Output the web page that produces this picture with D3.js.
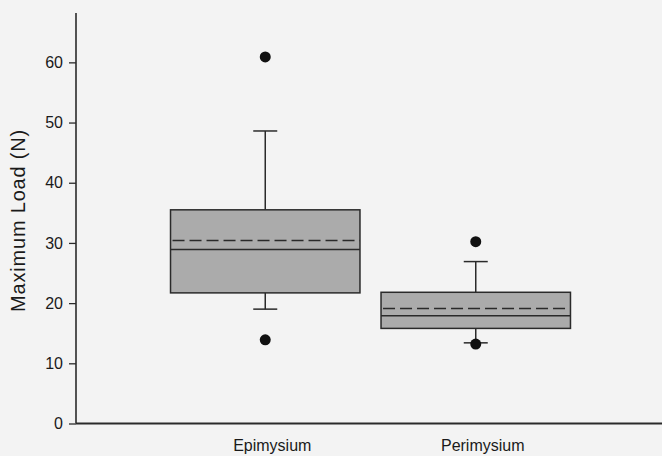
<!DOCTYPE html>
<html>
<head>
<meta charset="utf-8">
<script src="https://cdn.jsdelivr.net/npm/d3@7"></script>
<style>
  html, body { margin: 0; padding: 0; background: #f3f3f3; }
  svg { display: block; font-family: "Liberation Sans", Arial, Helvetica, sans-serif; }
</style>
</head>
<body>
<div id="chart"></div>
<script>
const categories = ['Epimysium', 'Perimysium'];
const q1 = [21.7, 15.8];
const q3 = [35.5, 21.8];
const medians = [28.9, 17.9];
const means = [30.4, 19.1];
const whiskerLow = [19.0, 13.4];
const whiskerHigh = [48.6, 26.9];
const outliers = [[60.9, 13.9], [30.2, 13.2]];
const yTicks = [0, 10, 20, 30, 40, 50, 60];

const width = 662;
const height = 456;

const svg = d3.select('#chart')
  .append('svg')
    .attr('width', width)
    .attr('height', height);

svg.append('rect')
  .attr('width', width)
  .attr('height', height)
  .attr('fill', '#f3f3f3');

const y = d3.scaleLinear()
  .domain([0, 68.2])
  .range([423.5, 13]);

const x = d3.scaleBand()
  .domain(categories)
  .range([160, 581])
  .paddingInner(0.1)
  .paddingOuter(0.05);

const boxes = categories.map((c, i) => ({
  name: c,
  q1: q1[i],
  q3: q3[i],
  median: medians[i],
  mean: means[i],
  lo: whiskerLow[i],
  hi: whiskerHigh[i],
  out: outliers[i]
}));

const ink = '#2a2a2a';
const capW = 24;

const g = svg.append('g');

const box = g.selectAll('g.box')
  .data(boxes)
  .enter()
  .append('g')
    .attr('class', 'box');

// whiskers
box.append('line')
  .attr('x1', d => x(d.name) + x.bandwidth() / 2)
  .attr('x2', d => x(d.name) + x.bandwidth() / 2)
  .attr('y1', d => y(d.q3))
  .attr('y2', d => y(d.hi))
  .attr('stroke', ink)
  .attr('stroke-width', 1.5);

box.append('line')
  .attr('x1', d => x(d.name) + x.bandwidth() / 2)
  .attr('x2', d => x(d.name) + x.bandwidth() / 2)
  .attr('y1', d => y(d.q1))
  .attr('y2', d => y(d.lo))
  .attr('stroke', ink)
  .attr('stroke-width', 1.5);

['hi', 'lo'].forEach(k => {
  box.append('line')
    .attr('x1', d => x(d.name) + x.bandwidth() / 2 - capW / 2)
    .attr('x2', d => x(d.name) + x.bandwidth() / 2 + capW / 2)
    .attr('y1', d => y(d[k]))
    .attr('y2', d => y(d[k]))
    .attr('stroke', ink)
    .attr('stroke-width', 1.5);
});

// box body
box.append('rect')
  .attr('x', d => x(d.name))
  .attr('y', d => y(d.q3))
  .attr('width', x.bandwidth())
  .attr('height', d => y(d.q1) - y(d.q3))
  .attr('fill', '#ababab')
  .attr('stroke', ink)
  .attr('stroke-width', 1.5);

// median (solid) and mean (dashed)
box.append('line')
  .attr('x1', d => x(d.name))
  .attr('x2', d => x(d.name) + x.bandwidth())
  .attr('y1', d => y(d.median))
  .attr('y2', d => y(d.median))
  .attr('stroke', ink)
  .attr('stroke-width', 1.5);

box.append('line')
  .attr('x1', d => x(d.name))
  .attr('x2', d => x(d.name) + x.bandwidth())
  .attr('y1', d => y(d.mean))
  .attr('y2', d => y(d.mean))
  .attr('stroke', ink)
  .attr('stroke-width', 1.5)
  .attr('stroke-dasharray', '12,5')
  .attr('stroke-dashoffset', -2);

// outliers
box.selectAll('circle')
  .data(d => d.out.map(v => ({ name: d.name, v })))
  .enter()
  .append('circle')
    .attr('cx', d => x(d.name) + x.bandwidth() / 2)
    .attr('cy', d => y(d.v))
    .attr('r', 5.5)
    .attr('fill', '#111');

// y axis
const yAxis = svg.append('g')
  .attr('transform', 'translate(76,0)')
  .call(d3.axisLeft(y).tickValues(yTicks).tickSize(7).tickPadding(6).tickFormat(d3.format('d')));

yAxis.select('.domain')
  .attr('d', `M0,${y.range()[1]}V${y(0)}`)
  .attr('stroke', ink)
  .attr('stroke-width', 1.6);
yAxis.selectAll('.tick line').attr('stroke', ink).attr('stroke-width', 1.3);
yAxis.selectAll('.tick text')
  .attr('fill', '#1a1a1a')
  .style('font-size', '16px')
  .style('font-family', '"Liberation Sans", Arial, sans-serif');

// x axis baseline
svg.append('line')
  .attr('x1', 76)
  .attr('x2', width)
  .attr('y1', y(0))
  .attr('y2', y(0))
  .attr('stroke', ink)
  .attr('stroke-width', 1.8);

// category labels
svg.selectAll('text.cat')
  .data(categories)
  .enter()
  .append('text')
    .attr('class', 'cat')
    .attr('x', d => x(d) + x.bandwidth() / 2 + 7)
    .attr('y', 451)
    .attr('text-anchor', 'middle')
    .attr('fill', '#1a1a1a')
    .style('font-size', '16px')
    .text(d => d);

// y label
svg.append('text')
  .attr('transform', 'translate(25,220.5) rotate(-90)')
  .attr('text-anchor', 'middle')
  .attr('fill', '#1a1a1a')
  .style('font-size', '20px')
  .style('letter-spacing', '0.8px')
  .text('Maximum Load (N)');
</script>
</body>
</html>
